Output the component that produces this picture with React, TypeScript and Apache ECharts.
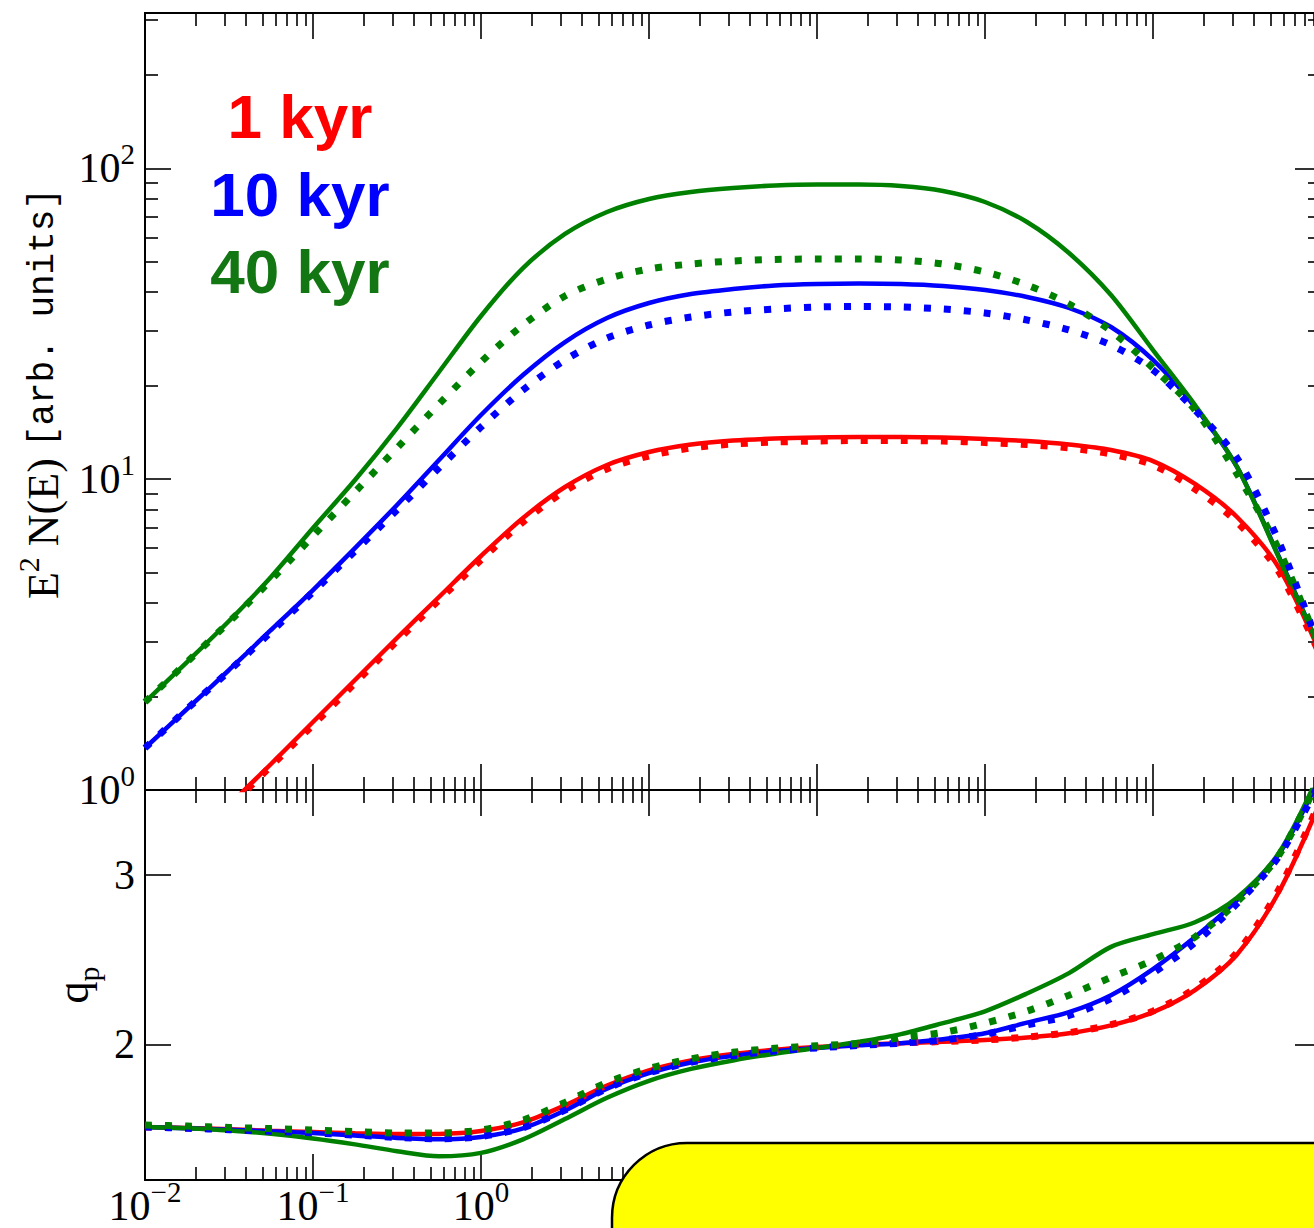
import React, { useEffect, useRef } from "react";
import * as echarts from "echarts";

// ---------- data (energy grid in GeV, quarter-decade steps) ----------
const ENERGY = [0.01, 0.01778, 0.03162, 0.05623, 0.1, 0.1778, 0.3162, 0.5623, 1, 1.778, 3.162, 5.623, 10, 17.78, 31.62, 56.23, 100, 177.8, 316.2, 562.3, 1000, 1778, 3162, 5623, 10000, 17783, 31623, 56234, 100000];

// top panel: E^2 N(E)
const SPEC_1KYR = [0.5058, 0.6703, 0.8949, 1.2125, 1.655, 2.259, 3.084, 4.178, 5.661, 7.501, 9.438, 11.11, 12.23, 12.93, 13.32, 13.52, 13.62, 13.67, 13.67, 13.62, 13.47, 13.27, 12.93, 12.41, 11.44, 9.652, 7.558, 5.18, 2.719];
const SPEC_1KYR_DOT = [0.4984, 0.6604, 0.8815, 1.1944, 1.619, 2.209, 3.015, 4.086, 5.496, 7.283, 9.163, 10.79, 11.88, 12.6, 12.98, 13.17, 13.27, 13.32, 13.32, 13.27, 13.12, 12.93, 12.6, 12.05, 11.11, 9.3, 7.283, 5.028, 2.679];
const SPEC_10KYR = [1.365, 1.822, 2.433, 3.272, 4.4, 6.004, 8.26, 11.53, 16.09, 21.64, 27.63, 33.01, 36.89, 39.43, 40.93, 42.0, 42.47, 42.63, 42.47, 41.84, 40.62, 38.57, 35.55, 30.88, 24.19, 17.07, 10.95, 5.619, 2.801];
const SPEC_10KYR_DOT = [1.365, 1.822, 2.415, 3.224, 4.336, 5.875, 7.96, 10.87, 14.72, 19.36, 24.19, 28.46, 31.34, 33.26, 34.51, 35.29, 35.81, 35.95, 35.81, 35.29, 34.26, 32.53, 30.21, 27.03, 22.46, 16.7, 11.7, 6.28, 2.78];
const SPEC_40KYR = [1.919, 2.581, 3.497, 4.846, 6.965, 9.941, 14.61, 22.13, 33.5, 47.79, 61.51, 72.38, 79.72, 83.96, 86.49, 88.09, 88.75, 88.75, 87.77, 84.58, 77.96, 67.23, 53.43, 39.14, 26.04, 17.33, 10.95, 5.578, 2.801];
const SPEC_40KYR_DOT = [1.919, 2.581, 3.471, 4.739, 6.565, 9.095, 12.6, 17.45, 23.83, 31.34, 38.86, 44.07, 47.46, 49.25, 50.36, 50.92, 51.11, 51.11, 50.73, 49.25, 46.42, 42.16, 36.62, 29.98, 22.79, 16.7, 10.39, 5.919, 2.801];

// bottom panel: q_p
const QP_1KYR = [1.513, 1.507, 1.5, 1.49, 1.483, 1.476, 1.471, 1.472, 1.489, 1.54, 1.64, 1.757, 1.847, 1.905, 1.943, 1.968, 1.984, 1.997, 2.007, 2.016, 2.025, 2.041, 2.066, 2.112, 2.19, 2.32, 2.53, 2.9, 3.44];
const QP_1KYR_DOT = [1.513, 1.507, 1.5, 1.491, 1.485, 1.478, 1.474, 1.475, 1.492, 1.543, 1.643, 1.76, 1.849, 1.907, 1.944, 1.969, 1.985, 1.998, 2.008, 2.017, 2.026, 2.043, 2.069, 2.116, 2.196, 2.33, 2.542, 2.915, 3.45];
const QP_10KYR = [1.513, 1.505, 1.497, 1.487, 1.477, 1.463, 1.448, 1.44, 1.454, 1.505, 1.61, 1.738, 1.83, 1.893, 1.932, 1.96, 1.979, 1.994, 2.007, 2.03, 2.065, 2.128, 2.19, 2.29, 2.444, 2.633, 2.851, 3.122, 3.59];
const QP_10KYR_DOT = [1.513, 1.505, 1.497, 1.488, 1.478, 1.465, 1.451, 1.443, 1.457, 1.508, 1.612, 1.74, 1.832, 1.894, 1.933, 1.961, 1.979, 1.994, 2.007, 2.026, 2.06, 2.115, 2.17, 2.27, 2.42, 2.6, 2.83, 3.11, 3.56];
const QP_40KYR = [1.513, 1.505, 1.492, 1.472, 1.445, 1.41, 1.37, 1.34, 1.36, 1.44, 1.56, 1.685, 1.785, 1.855, 1.905, 1.945, 1.978, 2.015, 2.06, 2.125, 2.195, 2.3, 2.42, 2.575, 2.65, 2.72, 2.865, 3.13, 3.62];
const QP_40KYR_DOT = [1.524, 1.518, 1.51, 1.503, 1.495, 1.485, 1.477, 1.477, 1.495, 1.553, 1.658, 1.775, 1.858, 1.915, 1.953, 1.977, 1.992, 2.006, 2.04, 2.07, 2.125, 2.196, 2.29, 2.395, 2.497, 2.633, 2.84, 3.116, 3.59];

const AGE_LABELS = ["1 kyr", "10 kyr", "40 kyr"];

// ---------- ticks ----------
const X_MAJOR = [0.01, 0.1, 1, 10, 100, 1000, 10000, 100000];
const X_LABELS = [0.01, 0.1, 1, 10, 100, 1000, 10000];
const X_MINOR = [
  0.02, 0.03, 0.04, 0.05, 0.06, 0.07, 0.08, 0.09,
  0.2, 0.3, 0.4, 0.5, 0.6, 0.7, 0.8, 0.9,
  2, 3, 4, 5, 6, 7, 8, 9,
  20, 30, 40, 50, 60, 70, 80, 90,
  200, 300, 400, 500, 600, 700, 800, 900,
  2000, 3000, 4000, 5000, 6000, 7000, 8000, 9000,
  20000, 30000, 40000, 50000, 60000, 70000, 80000, 90000,
];
const Y_TOP_MAJOR = [1, 10, 100];
const Y_TOP_MINOR = [2, 3, 4, 5, 6, 7, 8, 9, 20, 30, 40, 50, 60, 70, 80, 90, 200, 300];
const Y_BOT_TICKS = [2, 3];

const X_MIN = 0.01;
const X_MAX = 100000;
const YT_MIN = 1;
const YT_MAX = 316.2278;
const YB_MIN = 1.2;
const YB_MAX = 3.5;

const RED = "#ff0000";
const BLUE = "#0000ff";
const GREEN = "#008000";
const GREEN_TEXT = "#127612";

const SERIF = "'Liberation Serif', 'DejaVu Serif', serif";
const MONO = "'Liberation Mono', 'DejaVu Sans Mono', monospace";
const SANS = "'Liberation Sans', Arial, sans-serif";

const richNum: any = {
  b: { fontFamily: SERIF, fontSize: 42, color: "#000", lineHeight: 42, height: 42, verticalAlign: "middle" },
  s: { fontFamily: SERIF, fontSize: 29, color: "#000", lineHeight: 14, height: 14, verticalAlign: "top" },
};

const powFormatter = (v: number) => {
  const e = Math.round(Math.log10(v));
  return `{b|10}{s|${e < 0 ? "\u2212" + -e : e}}`;
};

const TICK_STYLE = { color: "#000", width: 1.6 };
const LINE_STYLE = { color: "#000", width: 2 };

function xAx(gridIndex: number, position: string, ticks: number[], len: number, extra: any = {}) {
  return {
    type: "log",
    logBase: 10,
    gridIndex,
    position,
    min: X_MIN,
    max: X_MAX,
    axisLine: { show: true, lineStyle: LINE_STYLE },
    axisTick: { show: true, inside: true, length: len, customValues: ticks, lineStyle: TICK_STYLE },
    axisLabel: { show: false },
    splitLine: { show: false },
    ...extra,
  };
}

function yLogAx(position: string, ticks: number[], len: number, extra: any = {}) {
  return {
    type: "log",
    logBase: 10,
    gridIndex: 0,
    position,
    min: YT_MIN,
    max: YT_MAX,
    axisLine: { show: true, lineStyle: LINE_STYLE },
    axisTick: { show: true, inside: true, length: len, customValues: ticks, lineStyle: TICK_STYLE },
    axisLabel: { show: false },
    splitLine: { show: false },
    ...extra,
  };
}

function yLinAx(position: string, extra: any = {}) {
  return {
    type: "value",
    gridIndex: 1,
    position,
    min: YB_MIN,
    max: YB_MAX,
    axisLine: { show: true, onZero: false, lineStyle: LINE_STYLE },
    axisTick: { show: true, inside: true, length: 26, customValues: Y_BOT_TICKS, lineStyle: TICK_STYLE },
    axisLabel: { show: false },
    splitLine: { show: false },
    ...extra,
  };
}

const pairs = (xs: number[], ys: number[]) => xs.map((x, i) => [x, ys[i]]);

function line(name: string, ys: number[], color: string, dotted: boolean, axisIdx: number) {
  return {
    type: "line",
    name,
    xAxisIndex: axisIdx,
    yAxisIndex: axisIdx,
    data: pairs(ENERGY, ys),
    showSymbol: false,
    symbol: "none",
    smooth: 0.3,
    clip: true,
    silent: true,
    lineStyle: dotted
      ? { color, width: 7, type: [7, 13], cap: "butt" }
      : { color, width: 4.5, type: "solid" },
    z: dotted ? 3 : 2,
  };
}

const option: any = {
  animation: false,
  backgroundColor: "#ffffff",
  grid: [
    { left: 145, right: 19, top: 13, height: 777, outerBoundsMode: "none", containLabel: false },
    { left: 145, right: 19, top: 790, height: 390, outerBoundsMode: "none", containLabel: false },
  ],
  xAxis: [
    xAx(0, "bottom", X_MAJOR, 26),
    xAx(0, "bottom", X_MINOR, 13),
    xAx(0, "top", X_MAJOR, 26),
    xAx(0, "top", X_MINOR, 13),
    xAx(1, "bottom", X_MAJOR, 26, {
      axisLabel: {
        show: true,
        customValues: X_LABELS,
        margin: 5,
        formatter: powFormatter,
        rich: richNum,
      },
    }),
    xAx(1, "bottom", X_MINOR, 13),
    xAx(1, "top", X_MAJOR, 26),
    xAx(1, "top", X_MINOR, 13),
  ],
  yAxis: [
    yLogAx("left", Y_TOP_MAJOR, 26, {
      axisLabel: { show: true, customValues: Y_TOP_MAJOR, margin: 10, formatter: powFormatter, rich: richNum },
      name: "{m|E}{s|2}{m| N(E) }{t|[arb. units]}",
      nameLocation: "middle",
      nameRotate: 90,
      nameGap: 80,
      nameTextStyle: {
        padding: [0, 0, 0, 16],
        rich: {
          m: { fontFamily: SERIF, fontSize: 44, color: "#000", lineHeight: 44, height: 44, verticalAlign: "middle" },
          s: { fontFamily: SERIF, fontSize: 30, color: "#000", lineHeight: 14, height: 14, verticalAlign: "top" },
          t: { fontFamily: MONO, fontSize: 36, color: "#000", lineHeight: 44, height: 44, verticalAlign: "middle" },
        },
      },
    }),
    yLogAx("left", Y_TOP_MINOR, 13),
    yLogAx("right", Y_TOP_MAJOR, 26),
    yLogAx("right", Y_TOP_MINOR, 13),
    yLinAx("left", {
      axisLabel: {
        show: true,
        customValues: Y_BOT_TICKS,
        margin: 10,
        fontFamily: SERIF,
        fontSize: 42,
        color: "#000",
      },
      name: "{m|q}{p|p}",
      nameLocation: "middle",
      nameRotate: 90,
      nameGap: 46,
      nameTextStyle: {
        rich: {
          m: { fontFamily: SERIF, fontSize: 44, color: "#000", lineHeight: 44, height: 44, verticalAlign: "middle" },
          p: { fontFamily: SERIF, fontSize: 30, color: "#000", lineHeight: 14, height: 14, verticalAlign: "bottom" },
        },
      },
    }),
    yLinAx("right"),
  ],
  series: [
    line(AGE_LABELS[0], SPEC_1KYR, RED, false, 0),
    line(AGE_LABELS[0] + " (dotted)", SPEC_1KYR_DOT, RED, true, 0),
    line(AGE_LABELS[1], SPEC_10KYR, BLUE, false, 0),
    line(AGE_LABELS[1] + " (dotted)", SPEC_10KYR_DOT, BLUE, true, 0),
    line(AGE_LABELS[2], SPEC_40KYR, GREEN, false, 0),
    line(AGE_LABELS[2] + " (dotted)", SPEC_40KYR_DOT, GREEN, true, 0),
    line(AGE_LABELS[0] + " q", QP_1KYR, RED, false, 4),
    line(AGE_LABELS[0] + " q (dotted)", QP_1KYR_DOT, RED, true, 4),
    line(AGE_LABELS[1] + " q", QP_10KYR, BLUE, false, 4),
    line(AGE_LABELS[1] + " q (dotted)", QP_10KYR_DOT, BLUE, true, 4),
    line(AGE_LABELS[2] + " q", QP_40KYR, GREEN, false, 4),
    line(AGE_LABELS[2] + " q (dotted)", QP_40KYR_DOT, GREEN, true, 4),
  ],
  graphic: [
    {
      type: "text",
      x: 300,
      y: 116,
      z: 50,
      style: { text: AGE_LABELS[0], fill: RED, font: `bold 62px ${SANS}`, textAlign: "center", textVerticalAlign: "middle", align: "center", verticalAlign: "middle" },
    },
    {
      type: "text",
      x: 300,
      y: 194,
      z: 50,
      style: { text: AGE_LABELS[1], fill: BLUE, font: `bold 62px ${SANS}`, textAlign: "center", textVerticalAlign: "middle", align: "center", verticalAlign: "middle" },
    },
    {
      type: "text",
      x: 300,
      y: 271,
      z: 50,
      style: { text: AGE_LABELS[2], fill: GREEN_TEXT, font: `bold 62px ${SANS}`, textAlign: "center", textVerticalAlign: "middle", align: "center", verticalAlign: "middle" },
    },
    {
      type: "rect",
      z: 100,
      shape: { x: 612, y: 1143, width: 780, height: 200, r: 75 },
      style: { fill: "#ffff00", stroke: "#000000", lineWidth: 2.5 },
    },
  ],
};

export default function App() {
  const ref = useRef<HTMLDivElement>(null);
  useEffect(() => {
    if (!ref.current) return;
    const chart = echarts.init(ref.current, null, { renderer: "svg" });
    chart.setOption(option);
    return () => chart.dispose();
  }, []);
  return (
    <div
      style={{
        position: "absolute",
        left: 0,
        top: 0,
        width: 1314,
        height: 1228,
        overflow: "hidden",
        background: "#ffffff",
      }}
    >
      <div ref={ref} style={{ width: 1340, height: 1228 }} />
    </div>
  );
}
